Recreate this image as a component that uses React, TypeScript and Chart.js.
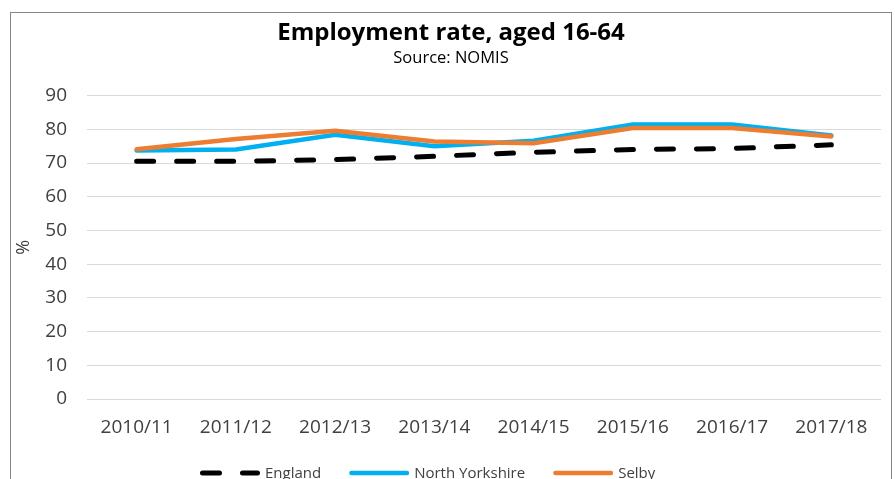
import React, { useEffect, useRef } from "react";
import { Chart, registerables } from "chart.js";

Chart.register(...registerables);

const categories = ["2010/11", "2011/12", "2012/13", "2013/14", "2014/15", "2015/16", "2016/17", "2017/18"];
const seriesNames = ["England", "North Yorkshire", "Selby"];
const england = [70.5, 70.5, 71.0, 72.0, 73.2, 74.0, 74.3, 75.4];
const northYorkshire = [73.7, 74.0, 78.4, 75.0, 76.6, 81.4, 81.4, 78.2];
const selby = [74.1, 77.1, 79.6, 76.4, 75.9, 80.4, 80.4, 77.9];
const yMin = 0;
const yMax = 90;
const yStep = 10;
const titleText = "Employment rate, aged 16-64";
const subtitleText = "Source: NOMIS";
const yAxisTitle = "%";

const FAMILY = "'Open Sans', sans-serif";
const TICK_COLOR = "#404040";

const legendPlugin = {
  id: "customLegend",
  afterDraw(chart: any) {
    const ctx = chart.ctx as CanvasRenderingContext2D;
    ctx.save();
    ctx.font = `15px ${FAMILY}`;
    ctx.textBaseline = "alphabetic";
    ctx.textAlign = "left";
    let x = 200;
    const y = 473;
    const lineLen = 60;
    chart.data.datasets.forEach((ds: any) => {
      const w = ds.borderWidth;
      ctx.beginPath();
      ctx.setLineDash(ds.borderDash || []);
      ctx.lineCap = "round";
      ctx.strokeStyle = ds.borderColor;
      ctx.lineWidth = w;
      ctx.moveTo(x + w / 2, y);
      ctx.lineTo(x + lineLen - w / 2, y);
      ctx.stroke();
      ctx.setLineDash([]);
      ctx.fillStyle = TICK_COLOR;
      const tx = x + lineLen + 5;
      ctx.fillText(ds.label, tx, y + 5);
      x = tx + ctx.measureText(ds.label).width + 28;
    });
    ctx.restore();
  },
};

export default function App() {
  const ref = useRef<HTMLCanvasElement>(null);
  useEffect(() => {
    if (!ref.current) return;
    const chart = new Chart(ref.current, {
      type: "line",
      data: {
        labels: categories,
        datasets: [
          {
            label: seriesNames[0],
            data: england,
            borderColor: "#000000",
            backgroundColor: "#000000",
            borderWidth: 5,
            borderDash: [17, 23],
            borderCapStyle: "round",
            pointRadius: 0,
            tension: 0,
            order: 2,
          },
          {
            label: seriesNames[1],
            data: northYorkshire,
            borderColor: "#00B0F0",
            backgroundColor: "#00B0F0",
            borderWidth: 4.5,
            borderCapStyle: "round",
            pointRadius: 0,
            tension: 0,
            order: 1,
          },
          {
            label: seriesNames[2],
            data: selby,
            borderColor: "#ED7D31",
            backgroundColor: "#ED7D31",
            borderWidth: 4.5,
            borderCapStyle: "round",
            pointRadius: 0,
            tension: 0,
            order: 0,
          },
        ],
      },
      options: {
        animation: false,
        responsive: false,
        maintainAspectRatio: false,
        devicePixelRatio: 1,
        layout: { padding: { left: 10, right: 3, top: 0, bottom: 0 } },
        plugins: {
          legend: { display: false },
          tooltip: { enabled: false },
          title: {
            display: true,
            text: titleText,
            color: "#000000",
            font: { family: FAMILY, size: 24, weight: "bold" },
            padding: { top: 19, bottom: 1 },
          },
          subtitle: {
            display: true,
            text: subtitleText,
            color: "#000000",
            font: { family: FAMILY, size: 16.5 },
            padding: { top: 0, bottom: 27 },
          },
        },
        scales: {
          x: {
            offset: true,
            grid: { display: false, drawTicks: false, offset: true },
            border: { display: false },
            ticks: { color: TICK_COLOR, font: { family: FAMILY, size: 19 }, padding: 17, maxRotation: 0 },
            afterFit: (s: any) => {
              s.height = 80;
            },
          },
          y: {
            min: yMin,
            max: yMax,
            grid: { color: "#d9d9d9", lineWidth: 1, drawTicks: false },
            border: { display: false },
            ticks: { stepSize: yStep, color: TICK_COLOR, font: { family: FAMILY, size: 19 }, padding: 20 },
            title: {
              display: true,
              text: yAxisTitle,
              color: TICK_COLOR,
              font: { family: FAMILY, size: 18 },
              padding: { top: 3, bottom: 0 },
            },
            afterFit: (s: any) => {
              s.width = 77;
            },
          },
          y2: {
            type: "linear",
            position: "right",
            display: true,
            grid: { display: false, drawTicks: false },
            border: { display: false },
            ticks: { display: false },
            afterFit: (s: any) => {
              s.width = 11;
            },
          },
        },
      },
      plugins: [legendPlugin],
    });
    return () => chart.destroy();
  }, []);

  return (
    <div
      style={{
        position: "fixed",
        left: 0,
        top: 0,
        width: 895,
        height: 479,
        overflow: "hidden",
        background: "#ffffff",
      }}
    >
      <canvas ref={ref} width={895} height={479} style={{ position: "absolute", left: 0, top: 0 }} />
      <div
        style={{
          position: "absolute",
          left: 10,
          top: 12,
          width: 882,
          height: 490,
          border: "1px solid #868686",
          boxSizing: "border-box",
          pointerEvents: "none",
        }}
      />
    </div>
  );
}
